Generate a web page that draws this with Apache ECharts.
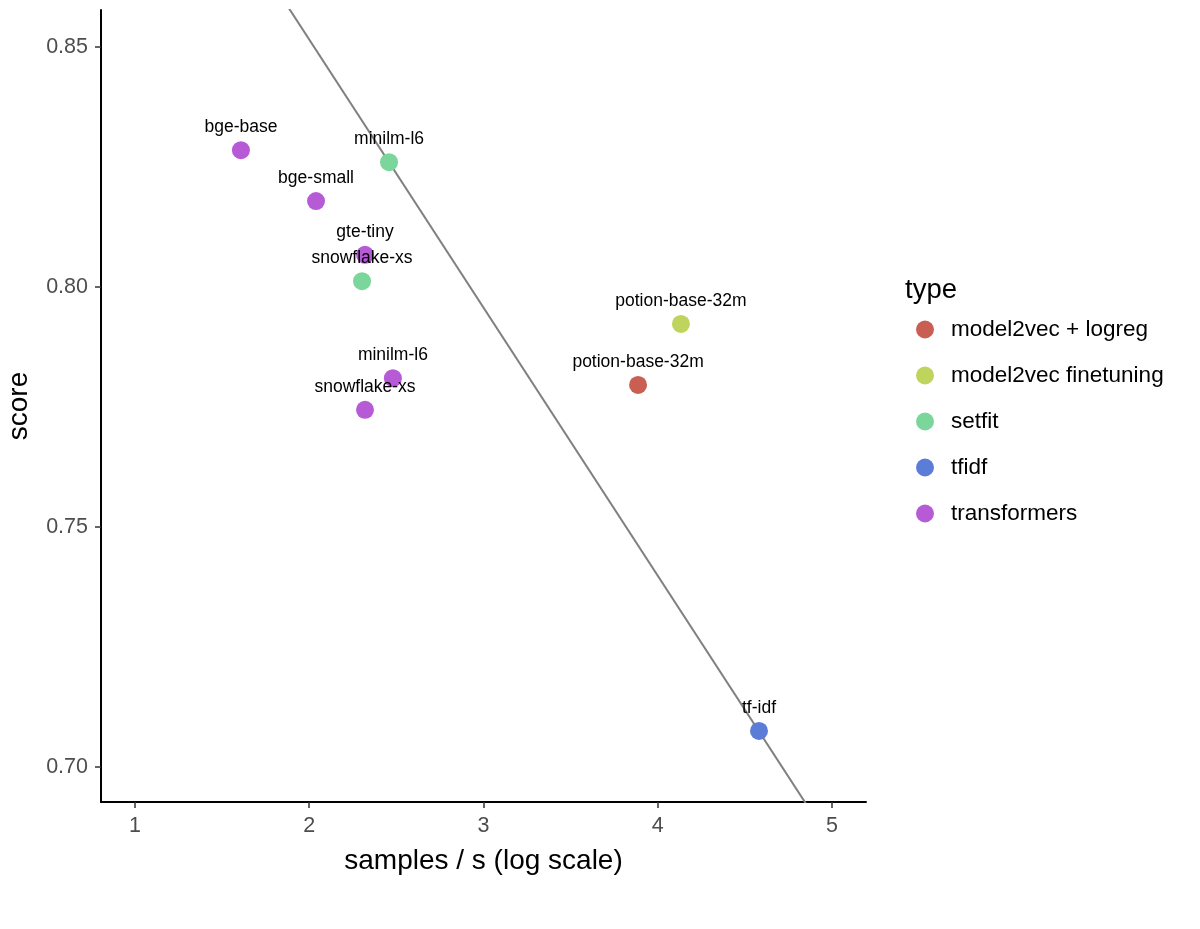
<!DOCTYPE html>
<html>
<head>
<meta charset="utf-8">
<script src="https://cdn.jsdelivr.net/npm/echarts@6/dist/echarts.min.js"></script>
<style>
  html, body { margin: 0; padding: 0; background: #fff; }
  #chart { width: 1200px; height: 929px; }
</style>
</head>
<body>
<div id="chart"></div>
<script>
// ---------- 数据 ----------
const typeNames = ['model2vec + logreg', 'model2vec finetuning', 'setfit', 'tfidf', 'transformers'];
const typeColors = ['#C95F53', '#BFD45D', '#7AD69A', '#5B7DD8', '#B65AD6'];

const modelNames = ['bge-base', 'bge-small', 'minilm-l6', 'gte-tiny', 'snowflake-xs', 'minilm-l6', 'snowflake-xs', 'potion-base-32m', 'potion-base-32m', 'tf-idf'];
const modelTypes = ['transformers', 'transformers', 'setfit', 'transformers', 'setfit', 'transformers', 'transformers', 'model2vec finetuning', 'model2vec + logreg', 'tfidf'];
const speedLog = [1.608, 2.039, 2.458, 2.32, 2.303, 2.48, 2.32, 4.133, 3.887, 4.581];
const scores = [0.8285, 0.8179, 0.8260, 0.8067, 0.8012, 0.7810, 0.7744, 0.7923, 0.7796, 0.7075];

// 回归线两端
const fitX = [1.7, 5.0];
const fitY = [0.8683, 0.6840];

const xTicks = [1, 2, 3, 4, 5];
const yTicks = [0.70, 0.75, 0.80, 0.85];

const font = 'Liberation Sans, Arial, Helvetica, sans-serif';

const chart = echarts.init(document.getElementById('chart'), null, { renderer: 'canvas' });

const pointSeries = typeNames.map((t, i) => ({
  name: t,
  type: 'scatter',
  symbolSize: 18,
  itemStyle: { color: typeColors[i], opacity: 1 },
  z: 3,
  label: {
    show: true,
    position: 'top',
    distance: 5,
    formatter: p => p.data.label,
    color: '#000',
    fontSize: 17.5,
    fontFamily: font,
  },
  labelLayout: { hideOverlap: false },
  data: modelNames
    .map((n, j) => ({ label: n, value: [speedLog[j], scores[j]], type: modelTypes[j] }))
    .filter(d => d.type === t),
}));

const option = {
  backgroundColor: '#fff',
  animation: false,
  grid: { left: 101, top: 10, right: 334, bottom: 127, containLabel: false, outerBoundsMode: 'none' },
  xAxis: {
    type: 'value',
    min: 0.805,
    max: 5.195,
    interval: 1,
    name: 'samples / s (log scale)',
    nameLocation: 'middle',
    nameGap: 45,
    nameTextStyle: { color: '#000', fontSize: 28, fontFamily: font },
    axisLine: { show: true, onZero: false, lineStyle: { color: '#000', width: 2 } },
    axisTick: { show: true, length: 6, lineStyle: { color: '#333', width: 1.5 }, customValues: xTicks },
    axisLabel: { color: '#4D4D4D', fontSize: 21.5, fontFamily: font, margin: 13, customValues: xTicks, formatter: v => String(v) },
    splitLine: { show: false },
  },
  yAxis: {
    type: 'value',
    min: 0.6927,
    max: 0.8577,
    name: 'score',
    nameLocation: 'middle',
    nameGap: 68,
    nameRotate: 90,
    nameTextStyle: { color: '#000', fontSize: 28, fontFamily: font },
    axisLine: { show: true, onZero: false, lineStyle: { color: '#000', width: 2 } },
    axisTick: { show: true, length: 6, lineStyle: { color: '#333', width: 1.5 }, customValues: yTicks },
    axisLabel: { color: '#4D4D4D', fontSize: 21.5, fontFamily: font, margin: 13, customValues: yTicks, formatter: v => v.toFixed(2) },
    splitLine: { show: false },
  },
  legend: {
    orient: 'vertical',
    left: 911,
    top: 313,
    itemWidth: 18,
    itemHeight: 18,
    itemGap: 23,
    icon: 'circle',
    data: typeNames,
    textStyle: { color: '#000', fontSize: 22.5, fontFamily: font, padding: [0, 0, 0, 12] },
    selectedMode: false,
  },
  graphic: [{
    type: 'text',
    left: 905,
    top: 276,
    style: { text: 'type', fontSize: 27.5, fontFamily: font, fill: '#000' },
  }],
  series: [
    {
      name: 'fit',
      type: 'line',
      data: fitX.map((x, i) => [x, fitY[i]]),
      symbol: 'none',
      clip: true,
      lineStyle: { color: '#808080', width: 2 },
      z: 2,
      silent: true,
    },
    ...pointSeries,
  ],
};

chart.setOption(option);
</script>
</body>
</html>
